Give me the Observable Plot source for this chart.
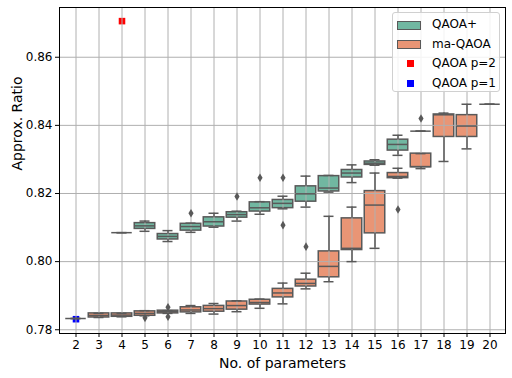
<!DOCTYPE html>
<html>
<head>
<meta charset="utf-8">
<script src="https://cdn.jsdelivr.net/npm/d3@7"></script>
<script src="https://cdn.jsdelivr.net/npm/@observablehq/plot@0.6"></script>
<style>
  body { margin: 0; background: white; }
  #wrap { position: relative; width: 512px; height: 378px; font-family: "DejaVu Sans", sans-serif; }
  #legend { position: absolute; left: 392px; top: 12px; width: 106px; height: 78px;
    border: 1px solid #d0d0d0; border-radius: 3px; background: rgba(255,255,255,0.85); font-size: 12px; color: #000; }
  .item { position: absolute; left: 0; height: 20px; width: 106px; }
  .patch { position: absolute; left: 4px; top: 5.5px; width: 22px; height: 7px; border: 1.2px solid #595959; }
  .mark { position: absolute; left: 14px; top: 6px; width: 6.5px; height: 6.5px; }
  .lab { position: absolute; left: 39px; top: 2px; line-height: 14px; white-space: nowrap; }
</style>
</head>
<body>
<div id="wrap"></div>
<script>
// ---- data ----
const categories = ["2","3","4","5","6","7","8","9","10","11","12","13","14","15","16","17","18","19","20"];
const yTicks = [0.78, 0.80, 0.82, 0.84, 0.86];
// rows: [category, lowerWhisker, q1, median, q3, upperWhisker]
const qaoaPlusBoxes = [
  ["4", 0.8085, 0.8085, 0.8085, 0.8085, 0.8085],
  ["5", 0.8089, 0.8096, 0.8105, 0.8113, 0.8119],
  ["6", 0.8059, 0.8065, 0.8074, 0.8081, 0.8091],
  ["7", 0.8086, 0.8091, 0.8103, 0.8111, 0.8113],
  ["8", 0.8101, 0.8103, 0.8117, 0.8130, 0.8142],
  ["9", 0.8119, 0.8129, 0.8138, 0.8145, 0.8148],
  ["10", 0.8139, 0.8147, 0.8158, 0.8174, 0.8176],
  ["11", 0.8155, 0.8157, 0.8171, 0.8181, 0.8192],
  ["12", 0.8160, 0.8176, 0.8199, 0.8221, 0.8251],
  ["13", 0.8204, 0.8206, 0.8216, 0.8251, 0.8253],
  ["14", 0.8232, 0.8247, 0.8260, 0.8269, 0.8284],
  ["15", 0.8283, 0.8284, 0.8289, 0.8294, 0.8299],
  ["16", 0.8312, 0.8326, 0.8344, 0.8358, 0.8371],
  ["17", 0.8383, 0.8383, 0.8383, 0.8383, 0.8383]
];
const maQaoaBoxes = [
  ["2", 0.7833, 0.7833, 0.7833, 0.7833, 0.7833],
  ["3", 0.7836, 0.7836, 0.7842, 0.7848, 0.7848],
  ["4", 0.7838, 0.7838, 0.7843, 0.7848, 0.7848],
  ["5", 0.7841, 0.7841, 0.7848, 0.7854, 0.7856],
  ["6", 0.7848, 0.7848, 0.7853, 0.7856, 0.7856],
  ["7", 0.7848, 0.7851, 0.7858, 0.7866, 0.7871],
  ["8", 0.7846, 0.7853, 0.7862, 0.7870, 0.7877],
  ["9", 0.7853, 0.7859, 0.7871, 0.7883, 0.7885],
  ["10", 0.7863, 0.7874, 0.7880, 0.7888, 0.7890],
  ["11", 0.7876, 0.7895, 0.7908, 0.7920, 0.7937],
  ["12", 0.7920, 0.7927, 0.7936, 0.7947, 0.7966],
  ["13", 0.7941, 0.7954, 0.7986, 0.8030, 0.8133],
  ["14", 0.8000, 0.8034, 0.8039, 0.8127, 0.8160],
  ["15", 0.8039, 0.8083, 0.8166, 0.8207, 0.8260],
  ["16", 0.8245, 0.8245, 0.8250, 0.8260, 0.8274],
  ["17", 0.8273, 0.8277, 0.8279, 0.8317, 0.8317],
  ["18", 0.8294, 0.8366, 0.8431, 0.8432, 0.8436],
  ["19", 0.8331, 0.8366, 0.8398, 0.8430, 0.8462],
  ["20", 0.8462, 0.8462, 0.8462, 0.8462, 0.8462]
];
// outliers: [category, value]
const qaoaPlusFliers = [["7", 0.8142], ["9", 0.8191], ["10", 0.8246], ["11", 0.8246], ["11", 0.8107], ["17", 0.8420]];
const maQaoaFliers = [["5", 0.7835], ["6", 0.7866], ["6", 0.7838], ["12", 0.8044], ["16", 0.8153]];
const qaoaP2 = [["4", 0.8706]];
const qaoaP1 = [["2", 0.7831]];

const seriesNames = ["QAOA+", "ma-QAOA", "QAOA p=2", "QAOA p=1"];
const greenFill = "#71b7a1", orangeFill = "#e99575", edge = "#595959";

const thinDiamond = {
  draw(ctx, size) {
    const r = Math.sqrt(size / Math.PI);
    ctx.moveTo(0, -r); ctx.lineTo(0.6 * r, 0); ctx.lineTo(0, r); ctx.lineTo(-0.6 * r, 0); ctx.closePath();
  }
};

const boxMarks = (rows, fill) => [
  Plot.barY(rows, {x: d => d[0], y1: d => d[2], y2: d => d[4], fill, stroke: edge, strokeWidth: 1.5, insetLeft: 1.25, insetRight: 1.25})
];
const lineMarks = (rows, fliers) => [
  Plot.ruleX(rows, {x: d => d[0], y1: d => d[1], y2: d => d[2], stroke: edge, strokeWidth: 1.5}),
  Plot.ruleX(rows, {x: d => d[0], y1: d => d[4], y2: d => d[5], stroke: edge, strokeWidth: 1.5}),
  Plot.tickY(rows, {x: d => d[0], y: d => d[1], stroke: edge, strokeWidth: 1.5, insetLeft: 6.5, insetRight: 6.5}),
  Plot.tickY(rows, {x: d => d[0], y: d => d[5], stroke: edge, strokeWidth: 1.5, insetLeft: 6.5, insetRight: 6.5}),
  Plot.tickY(rows, {x: d => d[0], y: d => d[3], stroke: edge, strokeWidth: 1.5, insetLeft: 1.25, insetRight: 1.25}),
  Plot.dot(fliers, {x: d => d[0], y: d => d[1], symbol: thinDiamond, r: 4.3, fill: edge, stroke: "none"})
];

const chart = Plot.plot({
  width: 512, height: 378,
  marginLeft: 59, marginRight: 7, marginTop: 7, marginBottom: 45,
  style: {fontFamily: "DejaVu Sans", fontSize: "12px", color: "black", background: "white"},
  x: {type: "band", domain: categories, padding: 0, label: null},
  y: {domain: [0.7789, 0.8746], label: null},
  marks: [
    ...boxMarks(qaoaPlusBoxes, greenFill),
    ...boxMarks(maQaoaBoxes, orangeFill),
    Plot.dot(qaoaP2, {x: d => d[0], y: d => d[1], symbol: "square", r: 3.7, fill: "red", stroke: "none"}),
    Plot.dot(qaoaP1, {x: d => d[0], y: d => d[1], symbol: "square", r: 3.7, fill: "blue", stroke: "none"}),
    Plot.gridX({stroke: "#b0b0b0", strokeOpacity: 1, strokeWidth: 1}),
    Plot.gridY(yTicks, {stroke: "#b0b0b0", strokeOpacity: 1, strokeWidth: 1}),
    ...lineMarks(qaoaPlusBoxes, qaoaPlusFliers),
    ...lineMarks(maQaoaBoxes, maQaoaFliers),
    Plot.frame({stroke: "black", strokeWidth: 1}),
    Plot.axisX({tickSize: 4, tickPadding: 3, label: null, fontSize: 12}),
    Plot.axisY({ticks: yTicks, tickFormat: d3.format(".2f"), tickSize: 4, tickPadding: 3, label: null, fontSize: 12}),
    Plot.text(["No. of parameters"], {frameAnchor: "bottom", text: d => d, dy: 30, fontSize: 14, lineAnchor: "middle"}),
    Plot.text(["Approx. Ratio"], {frameAnchor: "left", text: d => d, dx: -42, rotate: -90, fontSize: 14, lineAnchor: "middle"})
  ]
});

const wrap = document.getElementById("wrap");
wrap.appendChild(chart);

const legend = document.createElement("div");
legend.id = "legend";
const legendStyles = [
  {type: "patch", color: greenFill},
  {type: "patch", color: orangeFill},
  {type: "mark", color: "red"},
  {type: "mark", color: "blue"}
];
seriesNames.forEach((name, i) => {
  const item = document.createElement("div");
  item.className = "item";
  item.style.top = (2 + i * 19.7) + "px";
  const sw = document.createElement("div");
  sw.className = legendStyles[i].type;
  sw.style.background = legendStyles[i].color;
  const lab = document.createElement("div");
  lab.className = "lab";
  lab.textContent = name;
  item.appendChild(sw);
  item.appendChild(lab);
  legend.appendChild(item);
});
wrap.appendChild(legend);
</script>
</body>
</html>
